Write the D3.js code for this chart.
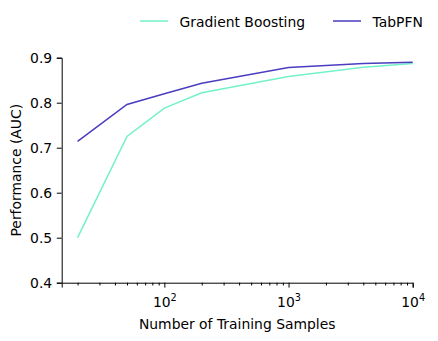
<!DOCTYPE html>
<html><head><meta charset="utf-8">
<script src="https://cdn.jsdelivr.net/npm/d3@7"></script>
<style>body{margin:0;background:#fff}text{font-family:"DejaVu Sans",sans-serif;fill:#000}</style>
</head><body><svg id="c" width="438" height="341"></svg>
<script>
const samples = [20, 50, 100, 200, 1000, 4000, 10000];
const gradientBoosting = [0.500, 0.725, 0.788, 0.822, 0.858, 0.879, 0.887];
const tabPFN = [0.714, 0.796, 0.820, 0.843, 0.878, 0.887, 0.890];
const yTicks = [0.4, 0.5, 0.6, 0.7, 0.8, 0.9];
const xTicks = [100, 1000, 10000];
const seriesNames = ["Gradient Boosting", "TabPFN"];
const colors = ["#72f2c9", "#4a3dbf"];

const FS = "13.9px";
const svg = d3.select("#c");
const m = {l: 61.7, r: 412.7, t: 57.7, b: 282.7};
const x = d3.scaleLog().domain([14.9, 10000]).range([m.l, m.r]);
const y = d3.scaleLinear().domain([0.4, 0.9]).range([m.b, m.t]);

const gx = svg.append("g").attr("transform", `translate(0,${m.b})`)
  .call(d3.axisBottom(x).tickValues(xTicks).tickSize(4.9).tickFormat(() => ""));
const minor = [];
for (let d = 10; d <= 1000; d *= 10) for (let k = 2; k <= 9; k++) { const v = d * k; if (v >= 14.9 && v <= 10000) minor.push(v); }
svg.append("g").attr("transform", `translate(0,${m.b})`)
  .call(d3.axisBottom(x).tickValues(minor).tickSize(2.8).tickFormat(() => ""))
  .call(g => g.select(".domain").remove());
gx.selectAll(".tick").each(function(d) {
  const t = d3.select(this).append("text").attr("y", 24).attr("text-anchor", "middle").style("font-size", FS);
  t.append("tspan").text("10");
  t.append("tspan").attr("dy", -5.5).style("font-size", "9.7px").text(Math.round(Math.log10(d)));
});
const gy = svg.append("g").attr("transform", `translate(${m.l},0)`)
  .call(d3.axisLeft(y).tickValues(yTicks).tickSize(4.9).tickFormat(d3.format(".1f")));
gy.selectAll("text").style("font-size", FS).attr("x", -9.5).attr("dy", "0.33em");
svg.selectAll(".domain, .tick line").attr("stroke", "#000").attr("stroke-width", 1);

const line = d3.line().x((d, i) => x(samples[i])).y(d => y(d));
[gradientBoosting, tabPFN].forEach((s, i) => {
  svg.append("path").datum(s).attr("d", line).attr("fill", "none")
    .attr("stroke", colors[i]).attr("stroke-width", 1.5);
});

svg.append("text").attr("x", (m.l + m.r) / 2).attr("y", 329).attr("text-anchor", "middle")
  .style("font-size", FS).text("Number of Training Samples");
svg.append("text").attr("transform", `translate(21,${(m.t + m.b) / 2}) rotate(-90)`)
  .attr("text-anchor", "middle").style("font-size", FS).text("Performance (AUC)");

const legX = [140, 333];
seriesNames.forEach((n, i) => {
  svg.append("line").attr("x1", legX[i]).attr("x2", legX[i] + 28).attr("y1", 21).attr("y2", 21)
    .attr("stroke", colors[i]).attr("stroke-width", 1.5);
  svg.append("text").attr("x", legX[i] + 39.5).attr("y", 26.5).style("font-size", FS).text(n);
});
</script></body></html>
